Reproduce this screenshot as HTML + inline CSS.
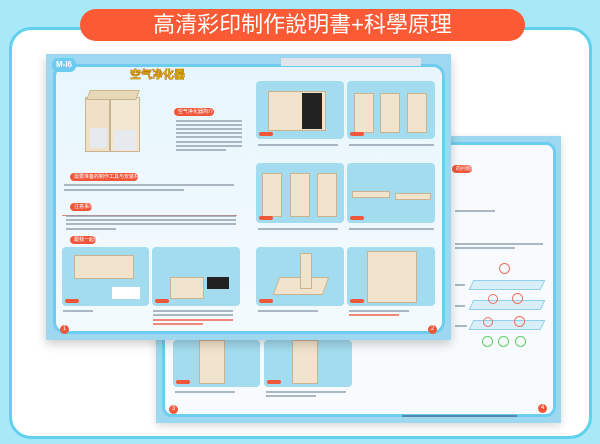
<!DOCTYPE html>
<html><head><meta charset="utf-8"><style>
*{margin:0;padding:0;box-sizing:border-box}
body{width:600px;height:444px;overflow:hidden;background:#a9e9f7;font-family:"Liberation Sans","Noto Sans CJK SC",sans-serif;position:relative}
.a{position:absolute}
.panel{background:#a3dcef;border-radius:4px}
.step{position:absolute;left:3px;bottom:3px;width:14px;height:4px;background:#f0573a;border-radius:2px}
.txt{position:absolute;height:1.5px;background:#8a9aa8;opacity:.7}
.rtxt{position:absolute;height:1.5px;background:#f06a5a;opacity:.8}
.lbl{position:absolute;background:#f0573a;color:#fff;font-size:5px;line-height:8px;height:8px;border-radius:4px;padding:0 4px;white-space:nowrap}
.wood{position:absolute;background:#f1e3cc;border:1px solid #c9b390}
.num{position:absolute;width:9px;height:9px;border-radius:50%;background:#f0573a;color:#fff;font-size:6px;line-height:9px;text-align:center}
</style></head><body>
<!-- white card -->
<div class="a" style="left:9px;top:27px;width:583px;height:412px;background:#fff;border:3px solid #5fd0ee;border-radius:22px"></div>
<!-- banner -->
<div class="a" style="left:80px;top:9px;width:445px;height:32px;background:#fb5a34;border-radius:16px;color:#fff;font-size:22px;line-height:32px;text-align:center;letter-spacing:0px">高清彩印制作說明書+科學原理</div>

<!-- back page -->
<div class="a" style="left:156px;top:136px;width:405px;height:287px;background:#9ed8f0;box-shadow:0 3px 8px rgba(0,0,0,.15)"></div>
<div class="a" style="left:162px;top:142px;width:394px;height:275px;background:#f7fbfe;border:3px solid #6ccdf0;border-radius:10px"></div>
<div class="lbl" style="left:452px;top:165px;width:20px">的问题吧?</div>
<div class="txt" style="left:455px;top:210px;width:40px"></div>
<div class="txt" style="left:455px;top:243px;width:88px"></div>
<div class="txt" style="left:455px;top:247px;width:60px"></div>
<!-- filter diagram -->
<div class="a" style="left:471px;top:280px;width:72px;height:10px;background:#d8eef8;border:1px solid #8ed0ea;transform:skewX(-25deg)"></div>
<div class="a" style="left:471px;top:300px;width:72px;height:10px;background:#d8eef8;border:1px solid #8ed0ea;transform:skewX(-25deg)"></div>
<div class="a" style="left:471px;top:320px;width:72px;height:10px;background:#d8eef8;border:1px solid #8ed0ea;transform:skewX(-25deg)"></div>
<div class="a" style="left:499px;top:263px;width:11px;height:11px;border:1px solid #f07060;border-radius:50%"></div>
<div class="a" style="left:488px;top:294px;width:10px;height:10px;border:1px solid #f07060;border-radius:50%"></div>
<div class="a" style="left:512px;top:293px;width:11px;height:11px;border:1px solid #f07060;border-radius:50%"></div>
<div class="a" style="left:483px;top:317px;width:10px;height:10px;border:1px solid #f07060;border-radius:50%"></div>
<div class="a" style="left:514px;top:316px;width:11px;height:11px;border:1px solid #f07060;border-radius:50%"></div>
<div class="a" style="left:482px;top:336px;width:11px;height:11px;border:1px solid #5fcf5f;border-radius:50%"></div>
<div class="a" style="left:498px;top:336px;width:11px;height:11px;border:1px solid #5fcf5f;border-radius:50%"></div>
<div class="a" style="left:515px;top:336px;width:11px;height:11px;border:1px solid #5fcf5f;border-radius:50%"></div>
<div class="txt" style="left:455px;top:284px;width:10px"></div>
<div class="txt" style="left:455px;top:305px;width:10px"></div>
<div class="txt" style="left:455px;top:325px;width:12px"></div>
<!-- back page bottom panels -->
<div class="panel a" style="left:173px;top:340px;width:87px;height:47px"><div class="wood" style="left:26px;top:0;width:26px;height:44px"></div><div class="step"></div></div>
<div class="panel a" style="left:264px;top:340px;width:88px;height:47px"><div class="wood" style="left:28px;top:0;width:26px;height:44px"></div><div class="step"></div></div>
<div class="txt" style="left:175px;top:391px;width:60px"></div>
<div class="txt" style="left:266px;top:391px;width:80px"></div>
<div class="txt" style="left:266px;top:395px;width:50px"></div>
<div class="num" style="left:169px;top:405px">3</div>
<div class="num" style="left:538px;top:404px">4</div>
<div class="txt" style="left:402px;top:415px;width:115px;background:#4a6a90"></div>

<!-- front page -->
<div class="a" style="left:46px;top:54px;width:405px;height:286px;background:#9ed8f0;box-shadow:0 4px 10px rgba(0,0,0,.2)"></div>
<div class="a" style="left:53px;top:64px;width:392px;height:270px;background:linear-gradient(#e7f6fd,#f3fafe);border:3px solid #6ccdf0;border-radius:12px"></div>
<div class="a" style="left:52px;top:58px;width:24px;height:14px;background:#6ccdf0;border-radius:6px;color:#fff;font-size:8px;font-weight:bold;line-height:14px;text-align:center">M-I6</div>
<div class="a" style="left:281px;top:58px;width:140px;height:8px;background:#dfe5ea"></div>
<div class="a" style="left:130px;top:66px;color:#e8b800;font-size:11px;font-weight:bold;-webkit-text-stroke:.5px #b06a00">空气净化器</div>
<!-- box illustration -->
<div class="a" style="left:85px;top:97px;width:25px;height:55px;background:#efe0c7;border:1px solid #c9b390"></div>
<div class="a" style="left:110px;top:97px;width:30px;height:55px;background:#f3e6d0;border:1px solid #c9b390"></div>
<div class="a" style="left:88px;top:90px;width:50px;height:10px;background:#e7d9b8;border:1px solid #c9b390;transform:skewX(-20deg)"></div>
<div class="a" style="left:90px;top:128px;width:17px;height:20px;background:#e6e9ee"></div>
<div class="a" style="left:114px;top:130px;width:22px;height:20px;background:#e6e9ee"></div>
<div class="lbl" style="left:174px;top:108px;width:40px">空气净化器简介</div>
<div class="txt" style="left:176px;top:120px;width:66px"></div><div class="txt" style="left:176px;top:124px;width:66px"></div><div class="txt" style="left:176px;top:128px;width:66px"></div><div class="txt" style="left:176px;top:132px;width:66px"></div><div class="txt" style="left:176px;top:136px;width:66px"></div><div class="txt" style="left:176px;top:141px;width:66px"></div><div class="txt" style="left:176px;top:145px;width:66px"></div><div class="txt" style="left:176px;top:149px;width:50px"></div>
<div class="lbl" style="left:70px;top:173px;width:68px">需要准备的制作工具与安装材料</div>
<div class="txt" style="left:64px;top:184px;width:170px"></div><div class="txt" style="left:64px;top:189px;width:120px"></div>
<div class="lbl" style="left:70px;top:203px;width:22px">注意事项</div>
<div class="rtxt" style="left:62px;top:215px;width:175px;height:1px"></div><div class="txt" style="left:66px;top:215px;width:170px"></div><div class="txt" style="left:66px;top:219px;width:170px"></div><div class="txt" style="left:66px;top:223px;width:170px"></div><div class="txt" style="left:66px;top:228px;width:50px"></div>
<div class="lbl" style="left:70px;top:236px;width:26px">跟我一起做</div>
<!-- photo panels -->
<div class="panel a" style="left:256px;top:81px;width:88px;height:58px"><div class="wood" style="left:12px;top:10px;width:58px;height:40px"></div><div class="a" style="left:46px;top:12px;width:20px;height:36px;background:#222"></div><div class="step"></div></div>
<div class="panel a" style="left:347px;top:81px;width:88px;height:58px"><div class="wood" style="left:7px;top:12px;width:20px;height:40px"></div><div class="wood" style="left:33px;top:12px;width:20px;height:40px"></div><div class="wood" style="left:60px;top:12px;width:20px;height:40px"></div><div class="step"></div></div>
<div class="txt" style="left:258px;top:144px;width:80px"></div><div class="txt" style="left:349px;top:144px;width:85px"></div>
<div class="panel a" style="left:256px;top:163px;width:88px;height:60px"><div class="wood" style="left:6px;top:10px;width:20px;height:44px"></div><div class="wood" style="left:34px;top:10px;width:20px;height:44px"></div><div class="wood" style="left:61px;top:10px;width:20px;height:44px"></div><div class="step"></div></div>
<div class="panel a" style="left:347px;top:163px;width:88px;height:60px"><div class="wood" style="left:5px;top:28px;width:38px;height:7px"></div><div class="wood" style="left:48px;top:30px;width:36px;height:7px"></div><div class="step"></div></div>
<div class="txt" style="left:258px;top:228px;width:80px"></div><div class="txt" style="left:349px;top:228px;width:85px"></div>
<div class="panel a" style="left:62px;top:247px;width:87px;height:59px"><div class="wood" style="left:12px;top:8px;width:60px;height:24px"></div><div class="a" style="left:50px;top:40px;width:28px;height:12px;background:#fff"></div><div class="step"></div></div>
<div class="panel a" style="left:152px;top:247px;width:88px;height:59px"><div class="wood" style="left:18px;top:30px;width:34px;height:22px"></div><div class="a" style="left:55px;top:30px;width:22px;height:12px;background:#222"></div><div class="step"></div></div>
<div class="panel a" style="left:256px;top:247px;width:88px;height:59px"><div class="wood" style="left:20px;top:30px;width:50px;height:18px;transform:skewX(-20deg)"></div><div class="wood" style="left:44px;top:6px;width:12px;height:36px"></div><div class="step"></div></div>
<div class="panel a" style="left:347px;top:247px;width:88px;height:59px"><div class="wood" style="left:20px;top:4px;width:50px;height:52px"></div><div class="step"></div></div>
<div class="txt" style="left:63px;top:310px;width:30px"></div>
<div class="txt" style="left:153px;top:310px;width:80px"></div><div class="txt" style="left:153px;top:314px;width:80px"></div><div class="rtxt" style="left:153px;top:319px;width:80px"></div><div class="rtxt" style="left:153px;top:323px;width:50px"></div>
<div class="txt" style="left:258px;top:310px;width:60px"></div>
<div class="txt" style="left:349px;top:310px;width:60px"></div><div class="rtxt" style="left:349px;top:314px;width:50px"></div>
<div class="num" style="left:60px;top:325px">1</div>
<div class="num" style="left:428px;top:325px">2</div>
</body></html>
